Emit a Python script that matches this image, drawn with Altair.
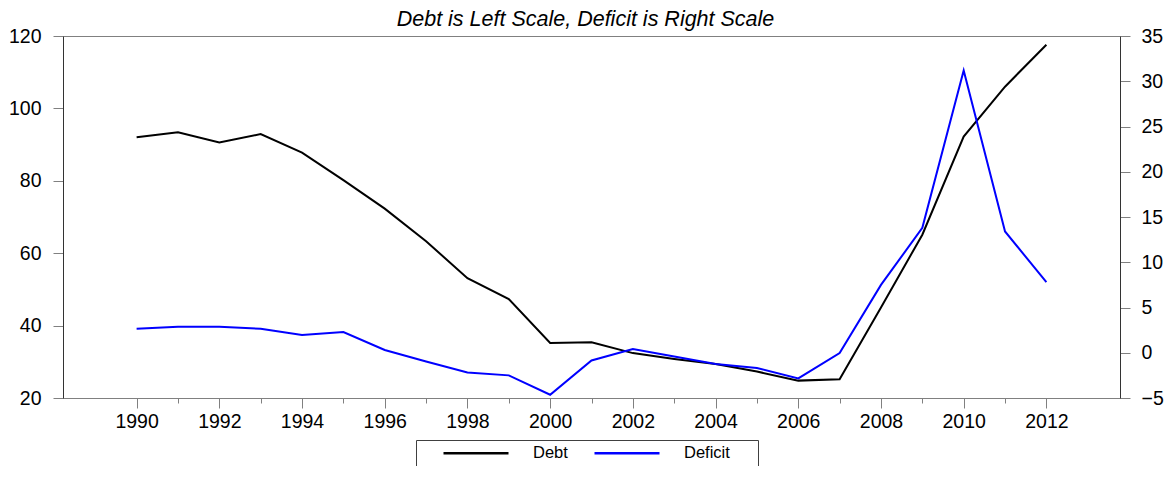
import altair as alt
import pandas as pd

years = list(range(1990, 2013))
debt = [92.0, 93.4, 90.6, 92.9, 87.8, 80.2, 72.3, 63.3, 53.1, 47.3, 35.2, 35.4,
        32.4, 30.8, 29.4, 27.3, 24.8, 25.2, 45.0, 65.1, 92.2, 106.0, 117.6]
deficit = [2.65, 2.87, 2.87, 2.65, 1.96, 2.29, 0.3, -0.96, -2.17, -2.5, -4.64, -0.85,
           0.41, -0.41, -1.25, -1.69, -2.84, -0.03, 7.5, 13.8, 31.2, 13.4, 7.8]
series_names = ["Debt", "Deficit"]
series_colors = ["#000000", "#0000ff"]
left_ticks = [20, 40, 60, 80, 100, 120]
right_ticks = [-5, 0, 5, 10, 15, 20, 25, 30, 35]
title_text = "Debt is Left Scale, Deficit is Right Scale"

FONT = "Liberation Sans"

df = pd.DataFrame({
    "year": years * 2,
    "series": ["Debt"] * len(years) + ["Deficit"] * len(years),
    "value": debt + deficit,
})

x_enc = alt.X(
    "year:Q",
    scale=alt.Scale(domain=[1988.22, 2013.78], nice=False, zero=False),
    axis=alt.Axis(
        title=None,
        values=years,
        format="d",
        labelExpr="datum.value % 2 === 0 ? datum.label : ''",
        labelOverlap=False,
        labelFlush=False,
        tickSize={"condition": {"test": "datum.value % 2 === 0", "value": 10}, "value": 5},
        labelPadding=4,
        domainColor="#808080",
    ),
)

color_enc = alt.Color(
    "series:N",
    scale=alt.Scale(domain=series_names, range=series_colors),
    legend=alt.Legend(
        title=".",
        titleOrient="right",
        titleOpacity=0,
        titleFontSize=16,
        titleFont=FONT,
        titlePadding=18,
        orient="none",
        legendX=353,
        legendY=404,
        direction="horizontal",
        symbolType="stroke",
        symbolSize=4225,
        symbolStrokeWidth=2.5,
        symbolOffset=21,
        labelOffset=23,
        columnPadding=4,
        clipHeight=16,
        padding=5,
        strokeColor="#404040",
        fillColor="white",
        labelFont=FONT,
        labelFontSize=16.5,
        labelColor="black",
    ),
)

debt_line = alt.Chart(df).transform_filter(alt.datum.series == "Debt").mark_line(strokeWidth=2).encode(
    x=x_enc,
    y=alt.Y(
        "value:Q",
        scale=alt.Scale(domain=[20, 120], nice=False, zero=False),
        axis=alt.Axis(title=None, values=left_ticks, orient="left", tickSize=10,
                      labelPadding=12, domainColor="#333333"),
    ),
    color=color_enc,
)

deficit_line = alt.Chart(df).transform_filter(alt.datum.series == "Deficit").mark_line(strokeWidth=2).encode(
    x=x_enc,
    y=alt.Y(
        "value:Q",
        scale=alt.Scale(domain=[-5, 35], nice=False, zero=False),
        axis=alt.Axis(title=None, values=right_ticks, orient="right", tickSize=10,
                      labelPadding=11, domainColor="#333333"),
    ),
    color=color_enc,
)

chart = alt.layer(debt_line, deficit_line).resolve_scale(y="independent").properties(
    width=1057,
    height=362,
    padding={"left": 55, "top": 28, "right": 44, "bottom": 68},
    autosize=alt.AutoSizeParams(type="none"),
    title=alt.TitleParams(
        title_text, font=FONT, fontSize=21.5, fontStyle="italic", fontWeight="normal",
        color="black", anchor="middle", frame="group", offset=-4, dx=-6,
    ),
).configure_axis(
    labelFont=FONT, labelFontSize=19.5, labelColor="black", tickColor="#808080", grid=False,
).configure_view(
    stroke="#808080", strokeWidth=1,
)

chart.save("out.html", embed_options={"renderer": "svg", "actions": False})
